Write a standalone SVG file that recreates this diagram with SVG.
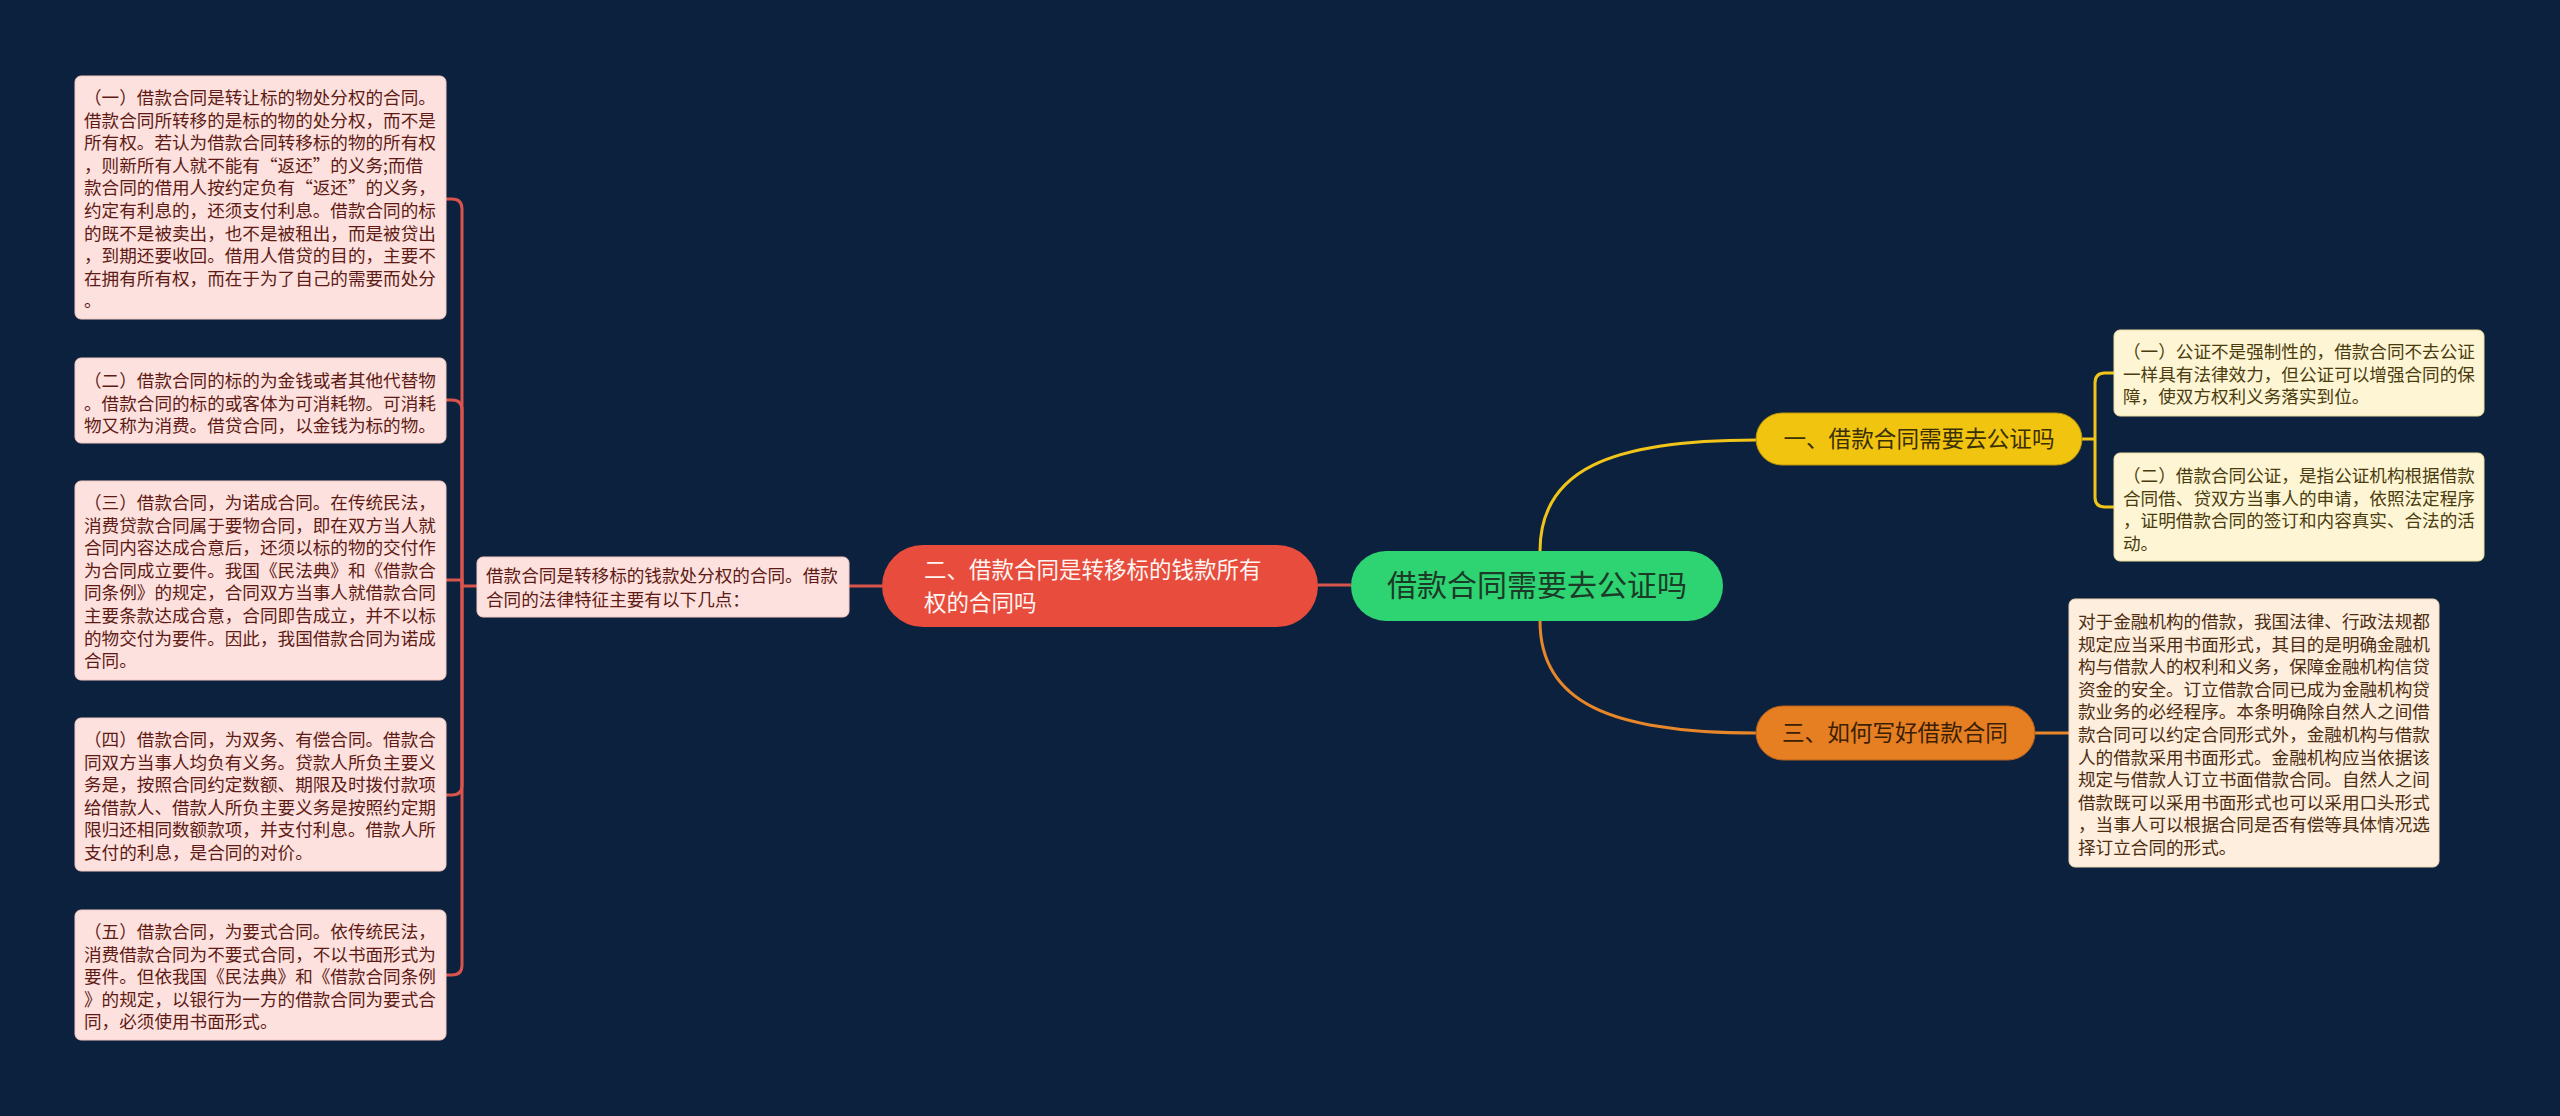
<svg xmlns="http://www.w3.org/2000/svg" width="2560" height="1116" viewBox="0 0 2560 1116">
<style>
  text { font-family: "Noto Sans CJK SC", "Noto Sans", sans-serif; }
  .t { font-size: 17.6px; }
  .pink rect { fill: #fde1de; stroke: #f3c9c4; stroke-width: 1; }
  .pink text { fill: #5e1b15; }
  .cream rect { fill: #fdf5d4; stroke: #ecdca0; stroke-width: 1; }
  .cream text { fill: #4a3c0e; }
  .peach rect { fill: #fdeedd; stroke: #efd6b8; stroke-width: 1; }
  .peach text { fill: #4d2d12; }
  .red { fill: none; stroke: #d9544c; stroke-width: 3; }
  .yel { fill: none; stroke: #f0c419; stroke-width: 3; }
  .org { fill: none; stroke: #e8862a; stroke-width: 3; }
</style>
<rect x="0" y="0" width="2560" height="1116" fill="#0c213d"/>

<g id="connectors">
  <path class="red" d="M1351,585 L1318,585"/>
  <path class="red" d="M882,586 L849,586"/>
  <path class="red" d="M477,586 L462,586 L462,209 Q462,199 452,199 L446,199"/>
  <path class="red" d="M462,586 L462,410 Q462,400 452,400 L446,400"/>
  <path class="red" d="M462,586 L462,580 L446,580"/>
  <path class="red" d="M462,586 L462,785 Q462,795 452,795 L446,795"/>
  <path class="red" d="M462,586 L462,965 Q462,975 452,975 L446,975"/>
  <path class="yel" d="M1540,551 C1540,470 1610,440 1756,440"/>
  <path class="org" d="M1540,621 C1540,702 1610,733 1756,733"/>
  <path class="yel" d="M2082,439 L2095,439 M2114,373 L2105,373 Q2095,373 2095,383 L2095,497 Q2095,507 2105,507 L2114,507"/>
  <path class="org" d="M2035,733 L2069,733"/>
</g>

<g id="root">
  <rect x="1351" y="551" width="372" height="70" rx="35" fill="#2fd472"/>
  <text x="1537" y="596" font-size="30" fill="#1b3a28" text-anchor="middle">借款合同需要去公证吗</text>
</g>

<g id="n-two">
  <rect x="882" y="545" width="436" height="82" rx="41" fill="#e74c3c"/>
  <text font-size="22.5" fill="#fff5f3"><tspan x="924" y="578">二、借款合同是转移标的钱款所有</tspan><tspan x="924" y="611">权的合同吗</tspan></text>
</g>

<g id="n-two-desc" class="pink">
  <rect x="477" y="557" width="372" height="60" rx="6"/>
  <text class="t"><tspan x="486" y="582">借款合同是转移标的钱款处分权的合同。借款</tspan><tspan x="486" y="606">合同的法律特征主要有以下几点：</tspan></text>
</g>

<g id="l1" class="pink">
  <rect x="75" y="76" width="371" height="243" rx="6"/>
  <text class="t">
    <tspan x="84" y="104">（一）借款合同是转让标的物处分权的合同。</tspan>
    <tspan x="84" y="126.6">借款合同所转移的是标的物的处分权，而不是</tspan>
    <tspan x="84" y="149.2">所有权。若认为借款合同转移标的物的所有权</tspan>
    <tspan x="84" y="171.8">，则新所有人就不能有“返还”的义务;而借</tspan>
    <tspan x="84" y="194.4">款合同的借用人按约定负有“返还”的义务，</tspan>
    <tspan x="84" y="217">约定有利息的，还须支付利息。借款合同的标</tspan>
    <tspan x="84" y="239.6">的既不是被卖出，也不是被租出，而是被贷出</tspan>
    <tspan x="84" y="262.2">，到期还要收回。借用人借贷的目的，主要不</tspan>
    <tspan x="84" y="284.8">在拥有所有权，而在于为了自己的需要而处分</tspan>
    <tspan x="84" y="307.4">。</tspan>
  </text>
</g>

<g id="l2" class="pink">
  <rect x="75" y="358" width="371" height="85" rx="6"/>
  <text class="t">
    <tspan x="84" y="387">（二）借款合同的标的为金钱或者其他代替物</tspan>
    <tspan x="84" y="409.6">。借款合同的标的或客体为可消耗物。可消耗</tspan>
    <tspan x="84" y="432.2">物又称为消费。借贷合同，以金钱为标的物。</tspan>
  </text>
</g>

<g id="l3" class="pink">
  <rect x="75" y="481" width="371" height="199" rx="6"/>
  <text class="t">
    <tspan x="84" y="509">（三）借款合同，为诺成合同。在传统民法，</tspan>
    <tspan x="84" y="531.6">消费贷款合同属于要物合同，即在双方当人就</tspan>
    <tspan x="84" y="554.2">合同内容达成合意后，还须以标的物的交付作</tspan>
    <tspan x="84" y="576.8">为合同成立要件。我国《民法典》和《借款合</tspan>
    <tspan x="84" y="599.4">同条例》的规定，合同双方当事人就借款合同</tspan>
    <tspan x="84" y="622">主要条款达成合意，合同即告成立，并不以标</tspan>
    <tspan x="84" y="644.6">的物交付为要件。因此，我国借款合同为诺成</tspan>
    <tspan x="84" y="667.2">合同。</tspan>
  </text>
</g>

<g id="l4" class="pink">
  <rect x="75" y="718" width="371" height="153" rx="6"/>
  <text class="t">
    <tspan x="84" y="746">（四）借款合同，为双务、有偿合同。借款合</tspan>
    <tspan x="84" y="768.6">同双方当事人均负有义务。贷款人所负主要义</tspan>
    <tspan x="84" y="791.2">务是，按照合同约定数额、期限及时拨付款项</tspan>
    <tspan x="84" y="813.8">给借款人、借款人所负主要义务是按照约定期</tspan>
    <tspan x="84" y="836.4">限归还相同数额款项，并支付利息。借款人所</tspan>
    <tspan x="84" y="859">支付的利息，是合同的对价。</tspan>
  </text>
</g>

<g id="l5" class="pink">
  <rect x="75" y="910" width="371" height="130" rx="6"/>
  <text class="t">
    <tspan x="84" y="938">（五）借款合同，为要式合同。依传统民法，</tspan>
    <tspan x="84" y="960.6">消费借款合同为不要式合同，不以书面形式为</tspan>
    <tspan x="84" y="983.2">要件。但依我国《民法典》和《借款合同条例</tspan>
    <tspan x="84" y="1005.8">》的规定，以银行为一方的借款合同为要式合</tspan>
    <tspan x="84" y="1028.4">同，必须使用书面形式。</tspan>
  </text>
</g>

<g id="n-one">
  <rect x="1756" y="413" width="326" height="52" rx="26" fill="#f1c40f" stroke="#b8940a" stroke-width="1"/>
  <text x="1919" y="447" font-size="22.6" fill="#3a2f05" text-anchor="middle">一、借款合同需要去公证吗</text>
</g>

<g id="n-three">
  <rect x="1756" y="706" width="279" height="54" rx="27" fill="#e67e22" stroke="#b5601a" stroke-width="1"/>
  <text x="1895" y="741" font-size="22.6" fill="#3a1f06" text-anchor="middle">三、如何写好借款合同</text>
</g>

<g id="r1" class="cream">
  <rect x="2114" y="330" width="370" height="86" rx="6"/>
  <text class="t">
    <tspan x="2123" y="358">（一）公证不是强制性的，借款合同不去公证</tspan>
    <tspan x="2123" y="380.6">一样具有法律效力，但公证可以增强合同的保</tspan>
    <tspan x="2123" y="403.2">障，使双方权利义务落实到位。</tspan>
  </text>
</g>

<g id="r2" class="cream">
  <rect x="2114" y="453" width="370" height="108" rx="6"/>
  <text class="t">
    <tspan x="2123" y="482">（二）借款合同公证，是指公证机构根据借款</tspan>
    <tspan x="2123" y="504.6">合同借、贷双方当事人的申请，依照法定程序</tspan>
    <tspan x="2123" y="527.2">，证明借款合同的签订和内容真实、合法的活</tspan>
    <tspan x="2123" y="549.8">动。</tspan>
  </text>
</g>

<g id="r3" class="peach">
  <rect x="2069" y="599" width="370" height="268" rx="6"/>
  <text class="t">
    <tspan x="2078" y="628">对于金融机构的借款，我国法律、行政法规都</tspan>
    <tspan x="2078" y="650.6">规定应当采用书面形式，其目的是明确金融机</tspan>
    <tspan x="2078" y="673.2">构与借款人的权利和义务，保障金融机构信贷</tspan>
    <tspan x="2078" y="695.8">资金的安全。订立借款合同已成为金融机构贷</tspan>
    <tspan x="2078" y="718.4">款业务的必经程序。本条明确除自然人之间借</tspan>
    <tspan x="2078" y="741">款合同可以约定合同形式外，金融机构与借款</tspan>
    <tspan x="2078" y="763.6">人的借款采用书面形式。金融机构应当依据该</tspan>
    <tspan x="2078" y="786.2">规定与借款人订立书面借款合同。自然人之间</tspan>
    <tspan x="2078" y="808.8">借款既可以采用书面形式也可以采用口头形式</tspan>
    <tspan x="2078" y="831.4">，当事人可以根据合同是否有偿等具体情况选</tspan>
    <tspan x="2078" y="854">择订立合同的形式。</tspan>
  </text>
</g>
</svg>
